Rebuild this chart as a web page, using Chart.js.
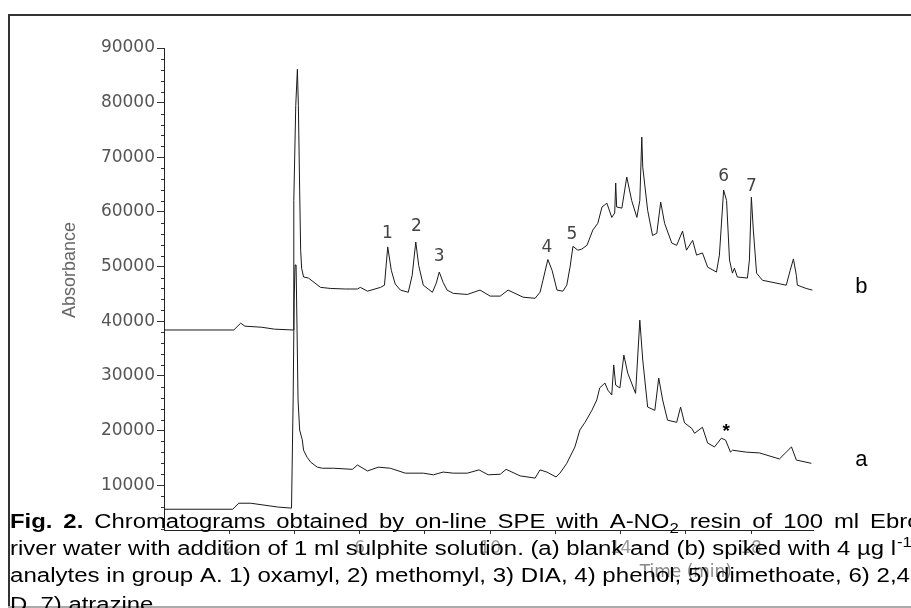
<!DOCTYPE html>
<html>
<head>
<meta charset="utf-8">
<script src="https://cdn.jsdelivr.net/npm/chart.js"></script>
<style>
html, body { margin: 0; padding: 0; background: #fff; }
#wrap { width: 911px; height: 608px; }
</style>
</head>
<body>
<div id="wrap"><canvas id="myChart" width="911" height="608"></canvas></div>
<script>
// trace b: spiked sample (upper)
const timeB = [0, 2.14, 2.35, 2.48, 3.00, 3.39, 3.96, 3.98, 4.04, 4.09, 4.12, 4.16, 4.19, 4.22, 4.28, 4.43, 4.80, 5.11, 5.57, 5.93,
    6.02, 6.24, 6.64, 6.76, 6.86, 6.97, 7.09, 7.25, 7.49, 7.61, 7.72, 7.81, 7.95, 8.23, 8.35, 8.44, 8.56, 8.68, 8.87, 9.30,
    9.69, 10.00, 10.31, 10.55, 11.01, 11.38, 11.53, 11.62, 11.77, 11.90, 12.05, 12.23, 12.35, 12.45, 12.54, 12.69, 12.81, 12.97, 13.15, 13.30,
    13.43, 13.58, 13.73, 13.82, 13.85, 13.88, 14.04, 14.19, 14.34, 14.50, 14.59, 14.65, 14.68, 14.83, 14.98, 15.11, 15.23, 15.35, 15.57, 15.72,
    15.90, 16.02, 16.21, 16.33, 16.51, 16.67, 16.94, 17.03, 17.16, 17.25, 17.34, 17.43, 17.49, 17.58, 17.89, 17.95, 18.01, 18.07, 18.17, 18.35,
    19.08, 19.20, 19.30, 19.39, 19.42, 19.69, 19.88];
const absB = [38400, 38400, 39650, 39100, 38900, 38550, 38400, 62100, 79500, 86100, 79500, 64000, 53000, 49700, 48100, 47900, 46200, 46000, 45900, 45900,
    46200, 45500, 46200, 46600, 53600, 49300, 46800, 45700, 45300, 48400, 54500, 50200, 46600, 45300, 47000, 49000, 47100, 45700, 45100, 44900,
    45700, 44600, 44600, 45700, 44400, 44200, 45300, 47500, 51300, 49300, 45700, 45500, 46600, 49900, 53700, 53000, 53200, 53900, 56700, 57900,
    60900, 61600, 59000, 59800, 65300, 60900, 60700, 66400, 62100, 59000, 62100, 73700, 68200, 60300, 55700, 56100, 61800, 57900, 54300, 53900,
    56500, 53000, 54800, 52100, 52500, 49900, 49000, 52100, 64000, 62100, 51200, 48800, 49700, 48100, 47900, 51200, 62700, 56700, 48800, 47500,
    46600, 49300, 51400, 48400, 46600, 46000, 45700];

// trace a: blank (lower)
const timeA = [0, 2.11, 2.29, 2.66, 3.49, 3.91, 3.96, 3.99, 4.02, 4.05, 4.08, 4.11, 4.16, 4.24, 4.28, 4.39, 4.50, 4.70, 4.86, 5.20,
    5.78, 5.93, 6.24, 6.57, 6.94, 7.40, 7.95, 8.26, 8.56, 8.87, 9.30, 9.66, 9.94, 10.31, 10.49, 10.92, 11.38, 11.53, 11.74, 12.02,
    12.14, 12.35, 12.60, 12.75, 12.91, 13.12, 13.27, 13.36, 13.52, 13.61, 13.73, 13.79, 13.85, 13.98, 14.10, 14.22, 14.46, 14.59, 14.68, 14.83,
    15.05, 15.17, 15.29, 15.44, 15.72, 15.84, 15.96, 16.18, 16.27, 16.51, 16.67, 16.88, 17.09, 17.22, 17.37, 17.43, 17.86, 18.26, 18.87, 19.24,
    19.39, 19.85];
const absA = [5600, 5600, 6700, 6700, 6000, 5800, 25600, 43900, 50300, 50300, 38400, 25600, 20100, 18300, 16400, 15100, 14200, 13300, 13100, 13100,
    12900, 13700, 12600, 13300, 13100, 12200, 12200, 11900, 12400, 12200, 12200, 12800, 11900, 12000, 12900, 11700, 11300, 12800, 12400, 11500,
    12200, 14000, 17000, 20100, 21500, 23700, 25600, 27800, 28700, 27400, 26500, 32000, 28300, 27800, 33800, 30500, 26800, 40200, 32900, 24300,
    23700, 29600, 25600, 21900, 21500, 24300, 21400, 20400, 19500, 20600, 17700, 17000, 18600, 18250, 16050, 16400, 16050, 15900, 14800, 17000,
    14600, 14000];

const xTickValues = [2, 4, 6, 8, 10, 12, 14, 16, 18];
const xTickLabels = [2, 6, 10, 14, 18];
const yTickValues = [10000, 20000, 30000, 40000, 50000, 60000, 70000, 80000, 90000];
const yMinorStep = 2000;

const peakLabels = ['1', '2', '3', '4', '5', '6', '7'];
const peakLabelTimes = [6.85, 7.74, 8.44, 11.74, 12.51, 17.16, 18.01];
const peakLabelHeights = [56100, 57400, 51900, 53550, 55900, 66400, 64700];

const traceNames = ['b', 'a'];
const traceNameTime = 21.38;
const traceNameHeights = [46200, 14600];
const starTime = 17.24;
const starHeight = 20500;

const captionLine2 = 'river water with addition of 1 ml sulphite solution. (a) blank and (b) spiked with 4 \u00b5g l';
const captionLine3 = 'analytes in group A. 1) oxamyl, 2) methomyl, 3) DIA, 4) phenol, 5) dimethoate, 6) 2,4';
const captionLine4 = 'D, 7) atrazine.';

function toPoints(xs, ys) {
    return xs.map((x, i) => ({ x: x, y: ys[i] }));
}

function drawRun(ctx, x, y, text, font, hs) {
    ctx.font = font;
    ctx.save();
    ctx.translate(x, y);
    ctx.scale(hs, 1);
    ctx.fillText(text, 0, 0);
    ctx.restore();
    return ctx.measureText(text).width * hs;
}

const extras = {
    id: 'extras',
    afterDraw(chart) {
        const ctx = chart.ctx;
        const xs = chart.scales.x;
        const ys = chart.scales.y;

        // frame
        ctx.save();
        ctx.strokeStyle = '#333';
        ctx.lineWidth = 2;
        ctx.beginPath();
        ctx.moveTo(9, 608);
        ctx.lineTo(9, 15);
        ctx.lineTo(911, 15);
        ctx.stroke();
        ctx.strokeStyle = '#aaa';
        ctx.beginPath();
        ctx.moveTo(8, 607);
        ctx.lineTo(911, 607);
        ctx.stroke();

        // minor y ticks
        ctx.strokeStyle = '#333';
        ctx.lineWidth = 1;
        ctx.beginPath();
        for (let v = yMinorStep; v <= ys.max; v += yMinorStep) {
            if (v % 10000 === 0) continue;
            const py = Math.round(ys.getPixelForValue(v)) + 0.5;
            ctx.moveTo(xs.left - 3, py);
            ctx.lineTo(xs.left, py);
        }
        ctx.stroke();

        // axis titles
        ctx.fillStyle = '#666';
        ctx.textAlign = 'center';
        ctx.textBaseline = 'middle';
        ctx.save();
        ctx.translate(70, 270);
        ctx.rotate(-Math.PI / 2);
        ctx.font = '18px "Liberation Sans", Arial';
        ctx.fillText('Absorbance', 0, 0);
        ctx.restore();
        ctx.fillStyle = '#888';
        ctx.font = '17px "DejaVu Sans"';
        ctx.fillText('Time (min)', xs.getPixelForValue(16), 573);

        // peak numbers
        ctx.fillStyle = '#444';
        ctx.font = '17px "DejaVu Sans"';
        peakLabels.forEach((t, i) => {
            ctx.fillText(t, xs.getPixelForValue(peakLabelTimes[i]), ys.getPixelForValue(peakLabelHeights[i]));
        });
        ctx.fillStyle = '#000';
        ctx.font = '22px "Liberation Sans", Arial';
        traceNames.forEach((t, i) => {
            ctx.fillText(t, xs.getPixelForValue(traceNameTime), ys.getPixelForValue(traceNameHeights[i]));
        });
        ctx.font = 'bold 19px "Liberation Sans", Arial';
        ctx.fillText('*', xs.getPixelForValue(starTime), ys.getPixelForValue(starHeight) + 4);

        // caption
        ctx.textAlign = 'left';
        ctx.textBaseline = 'alphabetic';
        ctx.fillStyle = '#000';
        const f = '20px "Liberation Sans", Arial';
        const fb = 'bold 20px "Liberation Sans", Arial';
        const fs = '14px "Liberation Sans", Arial';
        ctx.font = f;
        const hs = 886 / ctx.measureText(captionLine2).width;

        const words = [
            [['Fig.', fb, 0]], [['2.', fb, 0]], [['Chromatograms', f, 0]], [['obtained', f, 0]], [['by', f, 0]],
            [['on-line', f, 0]], [['SPE', f, 0]], [['with', f, 0]], [['A-NO', f, 0], ['2', fs, 5]], [['resin', f, 0]],
            [['of', f, 0]], [['100', f, 0]], [['ml', f, 0]], [['Ebro', f, 0]]
        ];
        const widths = words.map(w => w.reduce((s, r) => {
            ctx.font = r[1];
            return s + ctx.measureText(r[0]).width * hs;
        }, 0));
        let used = 0;
        for (let i = 0; i < words.length - 1; i++) used += widths[i];
        const gap = (870 - 10 - used) / (words.length - 1);
        let x = 10;
        words.forEach((w, i) => {
            let wx = x;
            w.forEach(r => { wx += drawRun(ctx, wx, 528 + r[2], r[0], r[1], hs); });
            x += widths[i] + gap;
        });

        let x2 = 10 + drawRun(ctx, 10, 555, captionLine2, f, hs);
        drawRun(ctx, x2 + 1, 547, '-1', fs, hs);

        ctx.font = f;
        const hs3 = 900 / ctx.measureText(captionLine3).width;
        const x3 = 10 + drawRun(ctx, 10, 582, captionLine3, f, hs3);
        drawRun(ctx, x3, 582, '-', f, hs3);

        drawRun(ctx, 10, 611, captionLine4, f, hs);
        ctx.restore();
    }
};

const ctx = document.getElementById('myChart');
new Chart(ctx, {
    type: 'scatter',
    data: {
        datasets: [{
            label: 'b',
            data: toPoints(timeB, absB),
            showLine: true,
            borderColor: '#1a1a1a',
            borderWidth: 1,
            pointRadius: 0,
            tension: 0
        }, {
            label: 'a',
            data: toPoints(timeA, absA),
            showLine: true,
            borderColor: '#1a1a1a',
            borderWidth: 1,
            pointRadius: 0,
            tension: 0
        }]
    },
    options: {
        responsive: false,
        animation: false,
        layout: {
            padding: { left: 8, top: 48, right: 98, bottom: 0 }
        },
        plugins: {
            legend: { display: false },
            tooltip: { enabled: false }
        },
        scales: {
            x: {
                type: 'linear',
                min: 0,
                max: 19.9,
                afterBuildTicks: function (scale) {
                    scale.ticks = xTickValues.map(v => ({ value: v }));
                },
                afterFit: function (scale) {
                    scale.height = 78;
                },
                ticks: {
                    autoSkip: false,
                    maxRotation: 0,
                    padding: 4,
                    color: '#999',
                    font: { family: 'DejaVu Sans', size: 17 },
                    callback: function (value) {
                        return xTickLabels.includes(value) ? String(value) : '';
                    }
                },
                grid: {
                    drawOnChartArea: false,
                    tickLength: 4,
                    tickColor: '#333'
                },
                border: { color: '#222', width: 1 }
            },
            y: {
                min: 1800,
                max: 90000,
                afterBuildTicks: function (scale) {
                    scale.ticks = yTickValues.map(v => ({ value: v }));
                },
                afterFit: function (scale) {
                    scale.width = 156;
                },
                ticks: {
                    padding: 2,
                    color: '#555',
                    font: { family: 'DejaVu Sans', size: 17 },
                    callback: function (value) {
                        return String(value);
                    }
                },
                grid: {
                    drawOnChartArea: false,
                    tickLength: 7,
                    tickColor: '#333'
                },
                border: { color: '#222', width: 1 }
            }
        }
    },
    plugins: [extras]
});
</script>
</body>
</html>
